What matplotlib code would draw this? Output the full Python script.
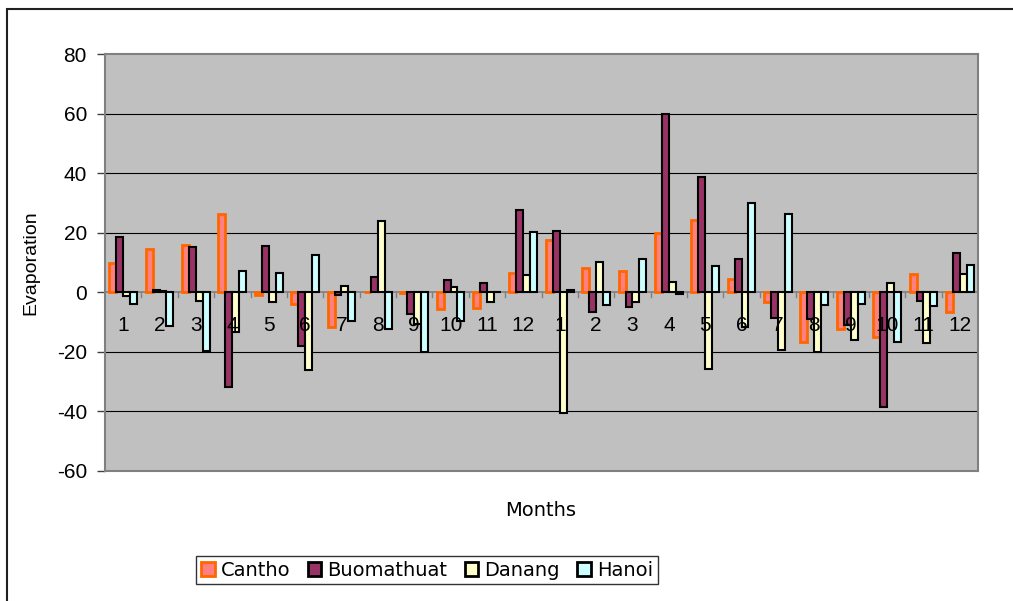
#!/usr/bin/env python3

import numpy as np
import matplotlib
matplotlib.use("Agg")
import matplotlib.pyplot as plt
from matplotlib.patches import Rectangle, Patch

plt.rcParams["font.family"] = ["Liberation Sans", "DejaVu Sans"]
plt.rcParams["axes.unicode_minus"] = False

# two years of monthly values
months = [str(m) for m in range(1, 13)] * 2

cantho = [9.8, 14.5, 15.8, 26.4, -1.0, -3.8, -11.7, 0.0, -0.3, -5.5, -5.3, 6.5,
          17.5, 8.2, 7.0, 19.8, 24.3, 4.4, -3.2, -16.7, -12.3, -15.1, 6.3, -6.7]
buomathuat = [18.5, 0.8, 15.1, -31.8, 15.4, -18.1, -0.8, 5.0, -7.3, 4.0, 3.2, 27.5,
              20.7, -6.6, -4.9, 59.7, 38.8, 11.1, -8.8, -9.0, -11.0, -38.5, -2.8, 13.2]
danang = [-1.1, 0.3, -3.0, -13.3, -3.4, -26.0, 2.0, 24.0, -10.8, 1.8, -3.4, 5.7,
          -40.4, 10.2, -3.4, 3.4, -25.8, -11.5, -19.5, -20.1, -15.9, 3.1, -17.0, 6.2]
hanoi = [-3.9, -11.4, -19.8, 7.3, 6.6, 12.4, -9.5, -12.3, -20.0, -9.5, 0.2, 20.2,
         0.9, -4.2, 11.1, -0.6, 8.7, 30.1, 26.3, -4.4, -4.1, -16.7, -4.7, 9.0]

series = [
	("Cantho", cantho, "#FF8080", "#FF6600"),
	("Buomathuat", buomathuat, "#993366", "black"),
	("Danang", danang, "#FFFFCC", "black"),
	("Hanoi", hanoi, "#CCFFFF", "black"),
]

fig = plt.figure(figsize=(10.13, 6.01), dpi=100)
ax = fig.add_axes([105 / 1013, 1 - 471 / 601, 873 / 1013, 417 / 601])
ax.set_facecolor("#C0C0C0")

# outer chart frame (only top and left visible)
fig.patches.append(Rectangle((7 / 1013, -0.1), 1.2, 1.1 - 9 / 601, transform=fig.transFigure,
	fill=False, edgecolor="#202020", linewidth=1.5))

x = np.arange(len(months))
w = 0.19
for n, (name, vals, fc, ec) in enumerate(series):
	ax.bar(x + (n - 1.5) * w, vals, w, color=fc, edgecolor=ec,
		linewidth=2.0 if name == "Cantho" else 1.5, zorder=3)

for g in (60, 40, 20, -20, -40):
	ax.axhline(g, color="black", linewidth=0.8, zorder=1)
ax.axhline(0, color="#808080", linewidth=1.2, zorder=2)

ax.set_ylim(-60, 80)
ax.set_xlim(-0.5, len(months) - 0.5)
ax.set_yticks(range(-60, 81, 20))
ax.tick_params(axis="y", direction="out", length=6, width=1, color="#404040", pad=7,
	labelsize=15)

# category axis sits on zero with boundary ticks
ax.set_xticks([])
for b in np.arange(0.5, len(months) - 0.5, 1.0):
	ax.plot([b, b], [0, -1.6], color="#808080", linewidth=1, zorder=2)
for i, m in enumerate(months):
	ax.annotate(m, (i, 0), xytext=(0, -17), textcoords="offset points", ha="center",
		va="top", fontsize=15, zorder=6)

for s in ax.spines.values():
	s.set_color("#808080")
	s.set_linewidth(1.5)

fig.text(541 / 1013, 1 - 510 / 601, "Months", ha="center", va="center", fontsize=14,
	family="DejaVu Sans")
fig.text(31 / 1013, 1 - 263 / 601, "Evaporation", ha="center", va="center", fontsize=14,
	rotation=90)

handles = [Patch(facecolor=fc, edgecolor=ec, linewidth=2) for name, vals, fc, ec in series]
leg = fig.legend(handles, [s[0] for s in series], loc="center", ncol=4,
	bbox_to_anchor=(427 / 1013, 1 - 570 / 601), frameon=True, fancybox=False,
	handlelength=0.7, handleheight=0.7, handletextpad=0.3, columnspacing=0.9,
	borderpad=0.25, prop={"family": "DejaVu Sans", "size": 14})
leg.get_frame().set_edgecolor("black")
leg.get_frame().set_linewidth(1.0)

fig.savefig("out.png", dpi=100)
